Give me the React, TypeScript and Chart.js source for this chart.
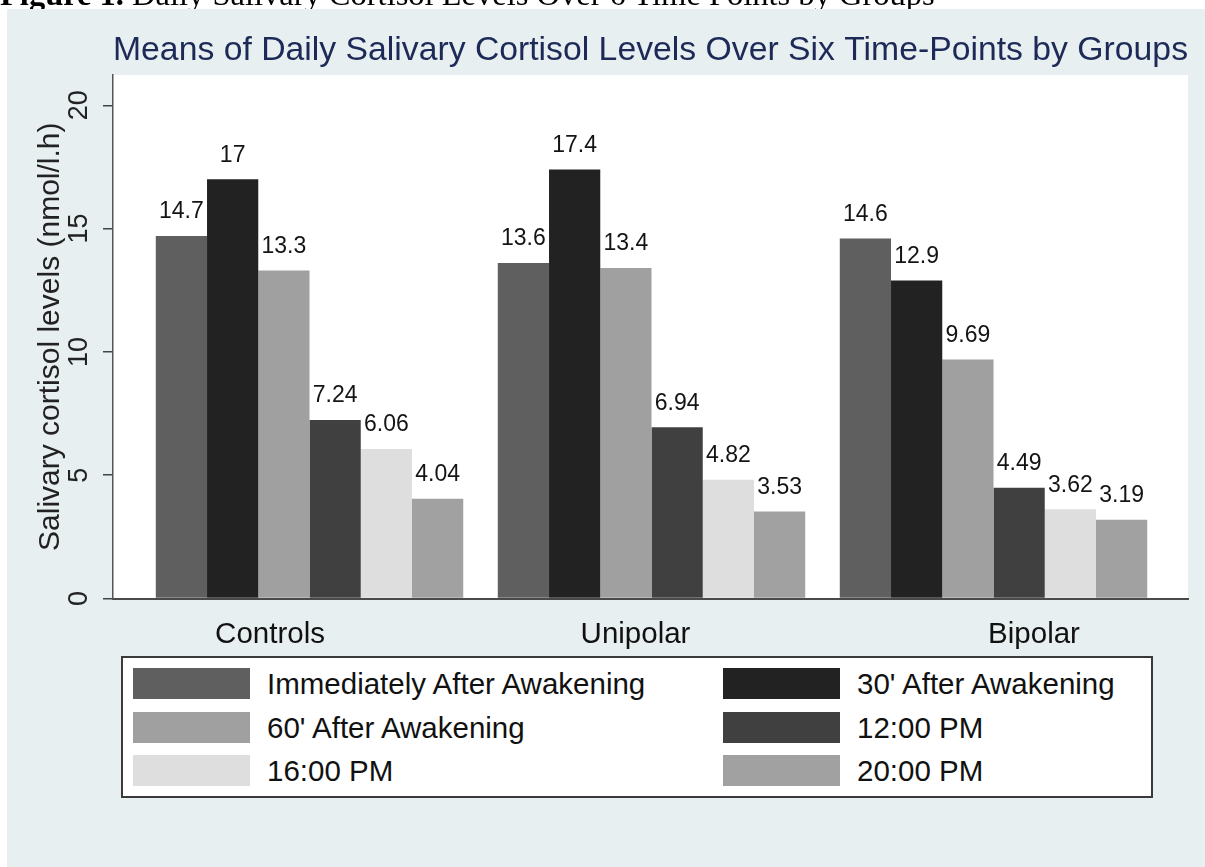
import React, { useEffect, useRef } from "react";
import { Chart, registerables } from "chart.js";

Chart.register(...registerables);

// ---------- data ----------
const groups = ["Controls", "Unipolar", "Bipolar"];
const seriesLabels = [
  "Immediately After Awakening",
  "30' After Awakening",
  "60' After Awakening",
  "12:00 PM",
  "16:00 PM",
  "20:00 PM",
];
const immediately = [14.7, 13.6, 14.6];
const after30 = [17, 17.4, 12.9];
const after60 = [13.3, 13.4, 9.69];
const pm12 = [7.24, 6.94, 4.49];
const pm16 = [6.06, 4.82, 3.62];
const pm20 = [4.04, 3.53, 3.19];
const seriesValues = [immediately, after30, after60, pm12, pm16, pm20];
const yTickValues = [0, 5, 10, 15, 20];

const captionBold = "Figure 1.";
const captionText = " Daily Salivary Cortisol Levels Over 6 Time Points by Groups";
const chartTitle = "Means of Daily Salivary Cortisol Levels Over Six Time-Points by Groups";
const yTitle = "Salivary cortisol levels (nmol/l.h)";

// ---------- styles / layout ----------
const W = 1205;
const H = 867;
const FONT = '"Liberation Sans", Arial, Helvetica, sans-serif';
const seriesColors = ["#5f5f5f", "#222222", "#a0a0a0", "#404040", "#dedede", "#a1a1a1"];
const X_MIN = -0.5746;
const X_MAX = 2.5687;
const Y_MAX = 21.23;
const LABEL_SHIFT = [-0.1155, -0.0468, 0.1184]; // Stata-like label placement relative to group centres
const PLOT_BOTTOM = 598.5;

export default function App() {
  const canvasRef = useRef<HTMLCanvasElement | null>(null);

  useEffect(() => {
    const canvas = canvasRef.current;
    if (!canvas) return;

    const bgPlugin = {
      id: "bgPlugin",
      beforeDraw(chart: any) {
        const { ctx, chartArea: a, width, height } = chart;
        ctx.save();
        ctx.fillStyle = "#ffffff";
        ctx.fillRect(0, 0, width, height);
        ctx.fillStyle = "#e8eff1";
        ctx.fillRect(7, 9, width - 7, height - 9);
        ctx.fillStyle = "#ffffff";
        ctx.fillRect(a.left, a.top, a.right - a.left, a.bottom - a.top);
        ctx.restore();
      },
    };

    const valueLabels = {
      id: "valueLabels",
      afterDatasetsDraw(chart: any) {
        const { ctx } = chart;
        ctx.save();
        ctx.font = `23px ${FONT}`;
        ctx.fillStyle = "#141414";
        ctx.textAlign = "center";
        ctx.textBaseline = "middle";
        chart.data.datasets.forEach((_ds: any, di: number) => {
          const meta = chart.getDatasetMeta(di);
          meta.data.forEach((el: any, i: number) => {
            ctx.fillText(String(seriesValues[di][i]), el.x, el.y - 24);
          });
        });
        ctx.restore();
      },
    };

    const chart = new Chart(canvas, {
      type: "bar",
      data: {
        datasets: seriesLabels.map((label, di) => ({
          label,
          data: groups.map((_g, i) => ({ x: i, y: seriesValues[di][i] })),
          backgroundColor: seriesColors[di],
          borderWidth: 0,
          categoryPercentage: 0.899,
          barPercentage: 1,
        })),
      },
      options: {
        responsive: false,
        animation: false,
        devicePixelRatio: 1,
        font: { family: FONT },
        layout: { padding: { left: 0, right: 17, top: 0, bottom: 0 } },
        plugins: {
          legend: { display: false },
          tooltip: { enabled: false },
          title: {
            display: true,
            text: chartTitle,
            fullSize: false,
            color: "#1d2a57",
            font: { family: FONT, size: 33.8, weight: "normal" },
            padding: { top: 30.4, bottom: 4.0 },
          },
        },
        scales: {
          x: {
            type: "linear",
            min: X_MIN,
            max: X_MAX,
            offset: false,
            z: 1,
            grid: { display: false, offset: false },
            border: { display: true, color: "#4a4a4a", width: 2 },
            afterBuildTicks: (s: any) => {
              s.ticks = groups.map((_g, i) => ({ value: i + LABEL_SHIFT[i] }));
            },
            afterFit: (s: any) => {
              s.height = H - PLOT_BOTTOM;
            },
            ticks: {
              autoSkip: false,
              minRotation: 0,
              maxRotation: 0,
              padding: 10.5,
              color: "#111111",
              font: { family: FONT, size: 29.5 },
              callback: (_v: any, i: number) => groups[i],
            },
          },
          y: {
            type: "linear",
            min: 0,
            max: Y_MAX,
            afterBuildTicks: (s: any) => {
              s.ticks = yTickValues.map((v) => ({ value: v }));
            },
            afterFit: (s: any) => {
              s.width = 113;
            },
            grid: {
              display: true,
              drawOnChartArea: false,
              drawTicks: true,
              tickLength: 10,
              color: "#444444",
              lineWidth: 1.5,
            },
            border: { display: true, color: "#555555", width: 1.5 },
            ticks: {
              minRotation: 90,
              maxRotation: 90,
              crossAlign: "center",
              padding: 8,
              color: "#222222",
              font: { family: FONT, size: 27 },
            },
            title: {
              display: true,
              text: yTitle,
              color: "#222222",
              font: { family: FONT, size: 30 },
              padding: { top: 33, bottom: 0 },
            },
          },
        },
      },
      plugins: [bgPlugin, valueLabels],
    } as any);

    return () => chart.destroy();
  }, []);

  const legendLeft = 121;
  const legendTop = 656;
  const colX = [10, 600];
  const rowY = [10, 53.5, 97];

  return (
    <div style={{ position: "fixed", left: 0, top: 0, width: W, height: H, overflow: "hidden", background: "#fff" }}>
      <canvas
        ref={canvasRef}
        width={W}
        height={H}
        style={{ position: "absolute", left: 0, top: 0, width: W, height: H, display: "block" }}
      />
      <div style={{ position: "absolute", left: 0, top: 0, width: W, height: 9, overflow: "hidden", zIndex: 2 }}>
        <div
          style={{
            position: "absolute",
            left: 0,
            top: -22,
            fontFamily: '"Liberation Serif", "Times New Roman", serif',
            fontSize: 32.5,
            lineHeight: "32.5px",
            whiteSpace: "nowrap",
            color: "#000",
          }}
        >
          <b>{captionBold}</b>
          {captionText}
        </div>
      </div>
      <div
        style={{
          position: "absolute",
          left: legendLeft,
          top: legendTop,
          width: 1032,
          height: 142,
          boxSizing: "border-box",
          border: "2px solid #3a3a3a",
          background: "#ffffff",
          zIndex: 2,
        }}
      >
        {seriesLabels.map((label, i) => {
          const r = Math.floor(i / 2);
          const c = i % 2;
          return (
            <div
              key={label}
              style={{
                position: "absolute",
                left: colX[c],
                top: rowY[r],
                height: 31,
                display: "flex",
                alignItems: "center",
                whiteSpace: "nowrap",
              }}
            >
              <div style={{ width: 117, height: 31, background: seriesColors[i] }} />
              <span
                style={{
                  marginLeft: 17,
                  fontFamily: FONT,
                  fontSize: 29.5,
                  lineHeight: "31px",
                  color: "#111",
                }}
              >
                {label}
              </span>
            </div>
          );
        })}
      </div>
    </div>
  );
}
